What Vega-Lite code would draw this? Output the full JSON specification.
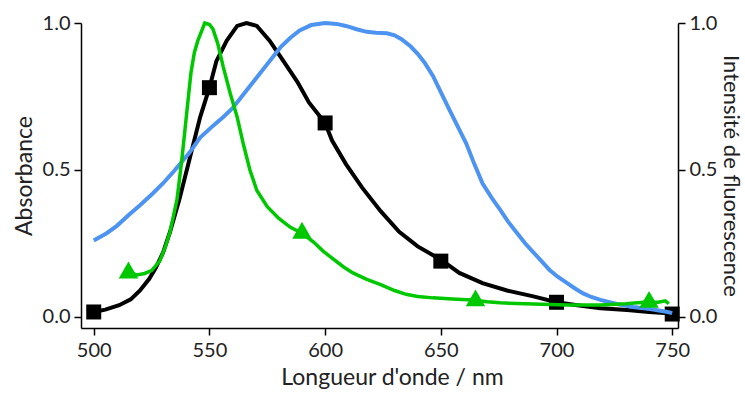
{
  "$schema": "https://vega.github.io/schema/vega-lite/v6.json",
  "width": 597,
  "height": 305,
  "autosize": {"type": "none"},
  "padding": {"left": 81, "top": 23, "right": 67, "bottom": 66},
  "background": "white",
  "config": {
    "view": {"stroke": null},
    "font": "Lato",
    "axis": {
      "labelFont": "Lato",
      "titleFont": "Lato",
      "labelFontSize": 20,
      "titleFontSize": 23,
      "titleFontWeight": "normal",
      "labelColor": "#222",
      "titleColor": "#222",
      "domainColor": "black",
      "tickColor": "black",
      "domainWidth": 1.5,
      "tickWidth": 1.5,
      "tickSize": 7,
      "grid": false
    }
  },
  "datasets": {
    "abs": [
      {"nm": 500, "v": 0.017}, {"nm": 505, "v": 0.025}, {"nm": 511, "v": 0.04}, {"nm": 516, "v": 0.06},
      {"nm": 520, "v": 0.09}, {"nm": 524, "v": 0.13}, {"nm": 527, "v": 0.17}, {"nm": 530, "v": 0.22},
      {"nm": 533, "v": 0.29}, {"nm": 537, "v": 0.40}, {"nm": 541.5, "v": 0.54}, {"nm": 546, "v": 0.68},
      {"nm": 550, "v": 0.78}, {"nm": 553, "v": 0.87}, {"nm": 557.5, "v": 0.94}, {"nm": 562, "v": 0.99},
      {"nm": 566, "v": 1.0}, {"nm": 570.5, "v": 0.99}, {"nm": 576, "v": 0.94}, {"nm": 582, "v": 0.87},
      {"nm": 588, "v": 0.80}, {"nm": 593, "v": 0.73}, {"nm": 600, "v": 0.66}, {"nm": 603, "v": 0.60},
      {"nm": 609, "v": 0.52}, {"nm": 616, "v": 0.44}, {"nm": 624, "v": 0.36}, {"nm": 632, "v": 0.29},
      {"nm": 640, "v": 0.24}, {"nm": 650, "v": 0.195}, {"nm": 658, "v": 0.15}, {"nm": 668, "v": 0.115},
      {"nm": 678.6, "v": 0.09}, {"nm": 690, "v": 0.07}, {"nm": 700, "v": 0.05}, {"nm": 709, "v": 0.04},
      {"nm": 719, "v": 0.03}, {"nm": 730.5, "v": 0.024}, {"nm": 740, "v": 0.017}, {"nm": 750, "v": 0.012}
    ],
    "absMarks": [
      {"nm": 500, "v": 0.017}, {"nm": 550, "v": 0.78}, {"nm": 600, "v": 0.66},
      {"nm": 650, "v": 0.19}, {"nm": 700, "v": 0.05}, {"nm": 750, "v": 0.01}
    ],
    "blue": [
      {"nm": 500, "v": 0.26}, {"nm": 505.6, "v": 0.285}, {"nm": 510, "v": 0.31}, {"nm": 515.6, "v": 0.35}, {"nm": 520, "v": 0.38},
      {"nm": 525.5, "v": 0.42}, {"nm": 530, "v": 0.455}, {"nm": 534, "v": 0.49}, {"nm": 541.5, "v": 0.56}, {"nm": 546, "v": 0.61},
      {"nm": 551.5, "v": 0.65}, {"nm": 556, "v": 0.68}, {"nm": 560, "v": 0.71}, {"nm": 565, "v": 0.76},
      {"nm": 569, "v": 0.80}, {"nm": 573, "v": 0.84}, {"nm": 577, "v": 0.88}, {"nm": 581, "v": 0.92}, {"nm": 585, "v": 0.95},
      {"nm": 589, "v": 0.975}, {"nm": 594, "v": 0.993}, {"nm": 600, "v": 1.0}, {"nm": 605, "v": 0.997}, {"nm": 609, "v": 0.99},
      {"nm": 614, "v": 0.978}, {"nm": 618, "v": 0.97}, {"nm": 622, "v": 0.967}, {"nm": 626.7, "v": 0.965},
      {"nm": 630, "v": 0.958}, {"nm": 633, "v": 0.945}, {"nm": 637, "v": 0.92}, {"nm": 640, "v": 0.895}, {"nm": 643, "v": 0.865},
      {"nm": 646.6, "v": 0.82}, {"nm": 650, "v": 0.765}, {"nm": 654, "v": 0.70}, {"nm": 657.5, "v": 0.645},
      {"nm": 661, "v": 0.59}, {"nm": 664.5, "v": 0.52}, {"nm": 668, "v": 0.455}, {"nm": 672, "v": 0.405}, {"nm": 675.6, "v": 0.365},
      {"nm": 679, "v": 0.325}, {"nm": 683, "v": 0.285}, {"nm": 686.5, "v": 0.25},
      {"nm": 690, "v": 0.22}, {"nm": 693.5, "v": 0.19}, {"nm": 697, "v": 0.16}, {"nm": 700.5, "v": 0.137}, {"nm": 704.6, "v": 0.115},
      {"nm": 708, "v": 0.097}, {"nm": 711.5, "v": 0.08}, {"nm": 715, "v": 0.068},
      {"nm": 719, "v": 0.058}, {"nm": 726, "v": 0.044}, {"nm": 733, "v": 0.034}, {"nm": 740.5, "v": 0.027},
      {"nm": 748, "v": 0.017}, {"nm": 750, "v": 0.013}
    ],
    "green": [
      {"nm": 515, "v": 0.153}, {"nm": 518.6, "v": 0.143}, {"nm": 522, "v": 0.148}, {"nm": 525, "v": 0.158}, {"nm": 528.5, "v": 0.19},
      {"nm": 531, "v": 0.24}, {"nm": 533, "v": 0.29}, {"nm": 536, "v": 0.40}, {"nm": 538, "v": 0.53}, {"nm": 540, "v": 0.68},
      {"nm": 542, "v": 0.83}, {"nm": 543.5, "v": 0.9}, {"nm": 545, "v": 0.94}, {"nm": 548, "v": 1.0}, {"nm": 550, "v": 0.995}, {"nm": 551.5, "v": 0.98},
      {"nm": 553.6, "v": 0.93}, {"nm": 556, "v": 0.85}, {"nm": 559, "v": 0.76}, {"nm": 562, "v": 0.68},
      {"nm": 564.6, "v": 0.59}, {"nm": 567.5, "v": 0.50}, {"nm": 570.5, "v": 0.43}, {"nm": 575, "v": 0.375},
      {"nm": 580, "v": 0.335}, {"nm": 585, "v": 0.305}, {"nm": 590, "v": 0.285}, {"nm": 595, "v": 0.255}, {"nm": 599, "v": 0.225}, {"nm": 603, "v": 0.20},
      {"nm": 608, "v": 0.17}, {"nm": 612, "v": 0.15}, {"nm": 618, "v": 0.128}, {"nm": 624, "v": 0.11}, {"nm": 630, "v": 0.09}, {"nm": 635, "v": 0.077}, {"nm": 640, "v": 0.07}, {"nm": 646.6, "v": 0.065},
      {"nm": 655, "v": 0.061}, {"nm": 663.5, "v": 0.058}, {"nm": 670, "v": 0.052}, {"nm": 675.6, "v": 0.048}, {"nm": 690, "v": 0.044}, {"nm": 704.6, "v": 0.041},
      {"nm": 719, "v": 0.041}, {"nm": 730, "v": 0.045}, {"nm": 737.5, "v": 0.05}, {"nm": 744, "v": 0.05}, {"nm": 747, "v": 0.055}, {"nm": 748.5, "v": 0.045}
    ],
    "greenMarks": [
      {"nm": 515, "v": 0.16}, {"nm": 590, "v": 0.295}, {"nm": 665, "v": 0.065}, {"nm": 740, "v": 0.06}
    ]
  },
  "layer": [
    {
      "layer": [
        {
          "data": {"name": "abs"},
          "mark": {"type": "line", "color": "black", "strokeWidth": 4, "clip": false},
          "encoding": {
            "x": {"field": "nm", "type": "quantitative", "scale": {"domain": [494.5, 752.5], "nice": false, "zero": false},
                  "axis": {"values": [500, 550, 600, 650, 700, 750], "title": "Longueur d'onde / nm", "labelPadding": 5, "titlePadding": 6, "titleX": 311, "format": "d"}},
            "y": {"field": "v", "type": "quantitative", "scale": {"domain": [-0.0375, 1], "nice": false, "zero": false},
                  "axis": {"values": [0, 0.5, 1], "format": ".1f", "title": "Absorbance", "labelPadding": 4, "titlePadding": 6}}
          }
        },
        {
          "data": {"name": "absMarks"},
          "mark": {"type": "point", "shape": "square", "filled": true, "color": "black", "size": 225, "opacity": 1, "clip": false},
          "encoding": {
            "x": {"field": "nm", "type": "quantitative"},
            "y": {"field": "v", "type": "quantitative"}
          }
        }
      ]
    },
    {
      "layer": [
        {
          "data": {"name": "blue"},
          "mark": {"type": "line", "color": "#4d94f2", "strokeWidth": 4, "clip": false},
          "encoding": {
            "x": {"field": "nm", "type": "quantitative"},
            "y": {"field": "v", "type": "quantitative", "scale": {"domain": [-0.0375, 1], "nice": false, "zero": false},
                  "axis": {"orient": "right", "values": [0, 0.5, 1], "format": ".1f", "title": "Intensité de fluorescence", "titleFontSize": 22, "labelPadding": 4, "titlePadding": 2}}
          }
        },
        {
          "data": {"name": "green"},
          "mark": {"type": "line", "color": "#00c800", "strokeWidth": 3.5, "clip": false},
          "encoding": {
            "x": {"field": "nm", "type": "quantitative"},
            "y": {"field": "v", "type": "quantitative"}
          }
        },
        {
          "data": {"name": "greenMarks"},
          "mark": {"type": "point", "shape": "triangle-up", "filled": true, "color": "#00c800", "size": 380, "opacity": 1, "clip": false},
          "encoding": {
            "x": {"field": "nm", "type": "quantitative"},
            "y": {"field": "v", "type": "quantitative"}
          }
        }
      ]
    }
  ],
  "resolve": {"scale": {"y": "independent"}, "axis": {"y": "independent"}}
}
